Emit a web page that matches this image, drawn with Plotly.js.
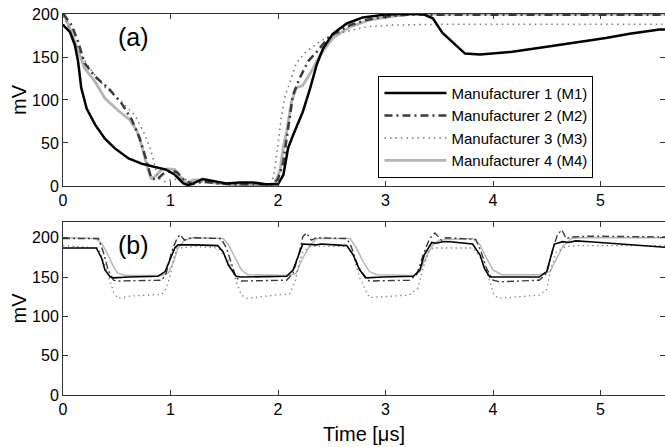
<!DOCTYPE html>
<html>
<head>
<meta charset="utf-8">
<script src="https://cdn.plot.ly/plotly-3.0.1.min.js"></script>
<style>html,body{margin:0;padding:0;background:#fff;}#chart{width:665px;height:447px;}</style>
</head>
<body>
<div id="chart"></div>
<script>
// ---------- Data ----------
var seriesNames = ["Manufacturer 1 (M1)", "Manufacturer 2 (M2)", "Manufacturer 3 (M3)", "Manufacturer 4 (M4)"];
var xTicks = [0, 1, 2, 3, 4, 5];
var yTicks = [0, 50, 100, 150, 200];

// Panel (a)
var a_m1_t = [0, 0.01, 0.065, 0.11, 0.14, 0.17, 0.22, 0.30, 0.39, 0.48, 0.61, 0.73, 0.855, 0.96, 1.04, 1.12, 1.165, 1.21, 1.30, 1.43, 1.52, 1.645, 1.77, 1.89, 2.0, 2.05, 2.094, 2.14, 2.23, 2.30, 2.36, 2.42, 2.51, 2.64, 2.79, 2.98, 3.13, 3.35, 3.44, 3.53, 3.63, 3.74, 3.88, 4.18, 4.50, 4.80, 5.05, 5.27, 5.55, 5.6];
var a_m1_v = [188, 186, 179, 164, 145, 114, 90, 71, 55, 44, 32, 26, 22, 19, 13, 3, 1, 3, 8, 5, 3, 4, 4, 2, 2, 13, 44, 59, 86, 114, 141, 160, 177, 189, 196, 199, 200, 200, 195, 178, 166, 154, 153, 156, 162, 167, 172, 177, 182, 182];

var a_m2_t = [0, 0.01, 0.08, 0.14, 0.20, 0.30, 0.42, 0.545, 0.64, 0.715, 0.78, 0.82, 0.87, 0.93, 1.0, 1.06, 1.12, 1.2, 1.3, 1.45, 1.6, 1.8, 1.95, 2.0, 2.05, 2.08, 2.14, 2.20, 2.28, 2.36, 2.48, 2.67, 2.82, 3.0, 3.2, 3.6, 4.5, 5.6];
var a_m2_v = [200, 199, 187, 168, 143, 127, 114, 96, 77, 55, 28, 9, 7, 14, 18, 16, 8, 2, 5, 3, 2, 2, 2, 8, 28, 55, 106, 125, 145, 156, 174, 187, 193, 197, 199, 199, 199, 199];

var a_m3_t = [0, 0.02, 0.08, 0.17, 0.27, 0.39, 0.545, 0.67, 0.75, 0.81, 0.855, 0.885, 0.95, 1.0, 1.12, 1.2, 1.34, 1.5, 1.7, 1.9, 1.94, 1.97, 2.0, 2.03, 2.06, 2.11, 2.17, 2.26, 2.39, 2.51, 2.67, 2.82, 3.04, 3.5, 4.5, 5.6];
var a_m3_v = [197, 195, 175, 152, 133, 115, 98, 82, 63, 44, 24, 9, 5, 7, 9, 4, 5, 2, 1, 0, 1, 21, 48, 79, 102, 121, 143, 156, 168, 176, 181, 185, 187, 188, 188, 188];

var a_m4_t = [0, 0.01, 0.065, 0.13, 0.2, 0.3, 0.39, 0.51, 0.62, 0.685, 0.73, 0.78, 0.82, 0.855, 0.92, 0.98, 1.04, 1.09, 1.15, 1.21, 1.30, 1.43, 1.61, 1.89, 1.97, 2.02, 2.05, 2.08, 2.125, 2.17, 2.23, 2.30, 2.39, 2.51, 2.67, 2.85, 3.04, 3.25, 4.0, 5.6];
var a_m4_v = [200, 199, 183, 160, 137, 121, 102, 88, 77, 65, 48, 24, 9, 11, 19, 20, 19, 11, 3, 7, 7, 3, 1, 1, 3, 19, 46, 63, 98, 114, 117, 131, 152, 172, 185, 193, 197, 200, 200, 200];

// Panel (b)
var b_m1_t = [0, 0.31, 0.36, 0.39, 0.44, 0.47, 0.61, 0.885, 0.95, 1.0, 1.04, 1.07, 1.23, 1.44, 1.49, 1.54, 1.61, 1.66, 2.08, 2.14, 2.23, 2.36, 2.40, 2.64, 2.70, 2.76, 2.82, 2.98, 3.26, 3.32, 3.36, 3.43, 3.47, 3.53, 3.60, 3.81, 3.88, 3.92, 3.97, 4.43, 4.50, 4.57, 4.65, 4.70, 4.77, 4.90, 5.21, 5.6];
var b_m1_v = [187, 187, 174, 159, 150, 149, 150, 151, 157, 174, 187, 191, 191, 190, 182, 165, 151, 150, 151, 159, 192, 191, 192, 190, 178, 159, 149, 150, 151, 159, 178, 194, 193, 195, 195, 192, 178, 161, 150, 150, 157, 192, 195, 194, 196, 195, 192, 188];

var b_m2_t = [0, 0.33, 0.375, 0.42, 0.47, 0.5, 0.92, 0.96, 1.01, 1.06, 1.09, 1.13, 1.2, 1.47, 1.52, 1.57, 1.61, 1.66, 2.08, 2.14, 2.20, 2.23, 2.265, 2.31, 2.36, 2.64, 2.68, 2.74, 2.81, 2.85, 3.22, 3.29, 3.35, 3.41, 3.46, 3.52, 3.56, 3.84, 3.89, 3.94, 4.0, 4.06, 4.43, 4.50, 4.56, 4.60, 4.64, 4.68, 4.74, 4.90, 5.6];
var b_m2_v = [199, 199, 182, 159, 146, 145, 146, 155, 182, 199, 204, 197, 200, 199, 187, 165, 149, 145, 146, 155, 182, 201, 206, 197, 200, 199, 189, 165, 149, 145, 146, 153, 178, 199, 206, 197, 200, 198, 182, 161, 146, 144, 146, 155, 187, 204, 210, 199, 201, 202, 201];

var b_m3_t = [0, 0.33, 0.39, 0.44, 0.47, 0.51, 0.64, 0.92, 0.96, 1.0, 1.03, 1.06, 1.1, 1.23, 1.44, 1.54, 1.61, 1.66, 1.71, 2.11, 2.16, 2.19, 2.23, 2.30, 2.64, 2.70, 2.76, 2.81, 2.85, 3.22, 3.30, 3.35, 3.40, 3.44, 3.81, 3.91, 3.97, 4.01, 4.05, 4.43, 4.50, 4.54, 4.59, 4.68, 4.81, 5.6];
var b_m3_v = [190, 187, 165, 144, 131, 123, 126, 128, 136, 153, 174, 187, 187, 189, 187, 170, 144, 127, 123, 129, 144, 165, 182, 189, 189, 178, 149, 134, 124, 127, 136, 161, 182, 187, 187, 170, 144, 127, 123, 127, 134, 161, 182, 189, 190, 190];

var b_m4_t = [0, 0.30, 0.36, 0.42, 0.47, 0.51, 0.58, 0.92, 0.98, 1.03, 1.07, 1.13, 1.2, 1.49, 1.54, 1.6, 1.66, 1.72, 2.11, 2.17, 2.23, 2.30, 2.36, 2.67, 2.73, 2.79, 2.85, 2.92, 3.26, 3.32, 3.38, 3.44, 3.50, 3.81, 3.88, 3.94, 4.0, 4.08, 4.43, 4.53, 4.59, 4.65, 4.73, 4.81, 5.6];
var b_m4_v = [200, 199, 193, 178, 163, 155, 152, 152, 155, 170, 187, 197, 200, 199, 191, 174, 159, 153, 152, 155, 174, 191, 199, 199, 187, 170, 157, 153, 152, 157, 176, 191, 197, 199, 191, 174, 159, 153, 153, 157, 174, 189, 199, 200, 200];

// ---------- Styles ----------
var colors = ["#000000", "#3a3a3a", "#7a7a7a", "#b4b4b4"];
var topStyles = [
  {width: 2.5, dash: "solid"},
  {width: 2.5, dash: "8px,4px,2px,4px"},
  {width: 1.6, dash: "1.5px,4px"},
  {width: 2.8, dash: "solid"}
];
var botStyles = [
  {width: 1.6, dash: "solid"},
  {width: 1.4, dash: "7px,3px,2px,3px"},
  {width: 1.3, dash: "1.3px,3.5px"},
  {width: 1.4, dash: "solid"}
];

var topT = [a_m1_t, a_m2_t, a_m3_t, a_m4_t];
var topV = [a_m1_v, a_m2_v, a_m3_v, a_m4_v];
var botT = [b_m1_t, b_m2_t, b_m3_t, b_m4_t];
var botV = [b_m1_v, b_m2_v, b_m3_v, b_m4_v];

var traces = [];
// draw light ones first so black lies on top
var order = [3, 2, 1, 0];
order.forEach(function (i) {
  traces.push({
    x: topT[i], y: topV[i], xaxis: "x", yaxis: "y", type: "scatter", mode: "lines",
    name: seriesNames[i], legendrank: i + 1,
    line: {color: colors[i], width: topStyles[i].width, dash: topStyles[i].dash},
    hoverinfo: "skip"
  });
});
order.forEach(function (i) {
  traces.push({
    x: botT[i], y: botV[i], xaxis: "x2", yaxis: "y2", type: "scatter", mode: "lines",
    name: seriesNames[i], showlegend: false,
    line: {color: colors[i], width: botStyles[i].width, dash: botStyles[i].dash},
    hoverinfo: "skip"
  });
});

var FAM = "Liberation Sans, Arial, sans-serif";
var tickFont = {family: FAM, size: 16, color: "#000"};
function xAxis(anchor, title) {
  var ax = {
    anchor: anchor, domain: [0, 1], range: [0, 5.6], tickvals: xTicks,
    ticks: "inside", ticklen: 5, tickcolor: "#333", mirror: "allticks",
    showline: true, linecolor: "#333", linewidth: 1,
    showgrid: false, zeroline: false, tickfont: tickFont, fixedrange: true
  };
  if (title) ax.title = {text: title, font: {family: FAM, size: 20, color: "#000"}, standoff: 9};
  return ax;
}
function yAxis(anchor, domain, range) {
  return {
    anchor: anchor, domain: domain, range: range, tickvals: yTicks,
    ticks: "inside", ticklen: 5, tickcolor: "#333", mirror: "allticks",
    showline: true, linecolor: "#333", linewidth: 1,
    showgrid: false, zeroline: false, tickfont: tickFont, fixedrange: true,
    title: {text: "mV", font: {family: FAM, size: 20, color: "#000"}, standoff: 0}
  };
}

var layout = {
  width: 665, height: 447,
  margin: {l: 63, r: 0, t: 14, b: 52},
  paper_bgcolor: "#fff", plot_bgcolor: "#fff",
  font: {family: FAM, color: "#000"},
  xaxis: xAxis("y", null),
  yaxis: yAxis("x", [0.5486, 1], [0, 200]),
  xaxis2: xAxis("y2", "Time [μs]"),
  yaxis2: yAxis("x2", [0, 0.454], [0, 220]),
  showlegend: true,
  legend: {
    x: 0.524, y: 0.838, xanchor: "left", yanchor: "top",
    bgcolor: "#fff", bordercolor: "#000", borderwidth: 1,
    font: {family: FAM, size: 15, color: "#000"},
    itemwidth: 62, traceorder: "normal"
  },
  annotations: [
    {text: "(a)", xref: "x", yref: "y", x: 0.66, y: 173, showarrow: false,
     font: {family: FAM, size: 25, color: "#000"}},
    {text: "(b)", xref: "x2", yref: "y2", x: 0.66, y: 191, showarrow: false,
     font: {family: FAM, size: 25, color: "#000"}}
  ]
};

Plotly.newPlot("chart", traces, layout, {staticPlot: true, displayModeBar: false});
</script>
</body>
</html>
